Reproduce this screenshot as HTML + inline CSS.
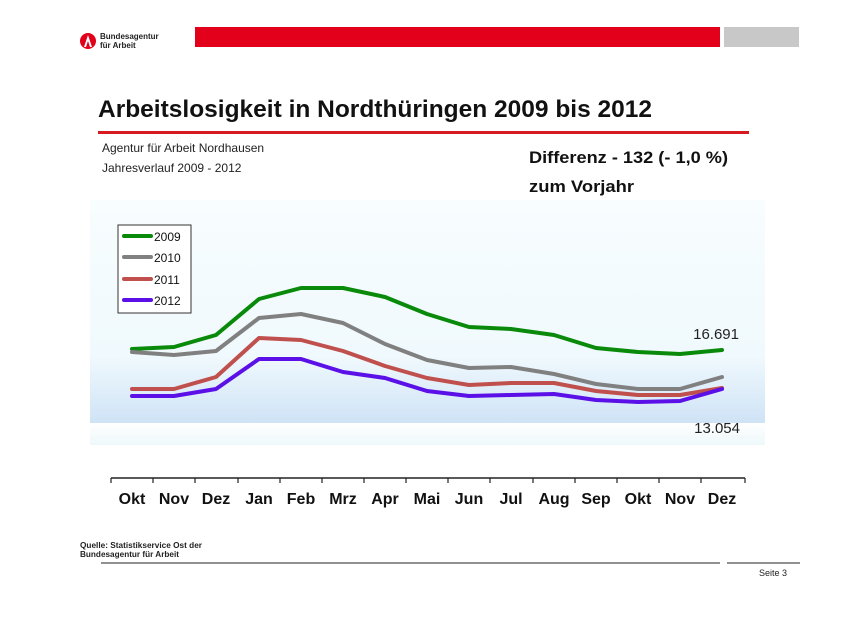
<!DOCTYPE html>
<html><head><meta charset="utf-8"><style>
html,body{margin:0;padding:0;background:#fff;}
svg{display:block;font-family:"Liberation Sans",sans-serif;}
</style></head><body>
<svg width="858" height="619" viewBox="0 0 858 619" xmlns="http://www.w3.org/2000/svg">
<defs>
<linearGradient id="bg" x1="0" y1="0" x2="0" y2="1">
<stop offset="0" stop-color="#f8fdff"/>
<stop offset="0.7" stop-color="#f0f9fd"/>
<stop offset="1" stop-color="#cfe3f6"/>
</linearGradient>
<linearGradient id="bg2" x1="0" y1="0" x2="0" y2="1">
<stop offset="0" stop-color="#ffffff"/>
<stop offset="1" stop-color="#eef8fb"/>
</linearGradient>
</defs>
<rect width="858" height="619" fill="#fff"/>
<circle cx="88" cy="41" r="8" fill="#e2001a"/>
<path d="M84 47 L88 35 L92 47 L90 47 L88 41 L86 47Z" fill="#fff"/>
<text x="100" y="39" font-size="8" font-weight="bold" fill="#222">Bundesagentur</text>
<text x="100" y="48" font-size="8" font-weight="bold" fill="#222">für Arbeit</text>
<rect x="195" y="27" width="525" height="20" fill="#e2001a"/>
<rect x="724" y="27" width="75" height="20" fill="#c8c8c8"/>
<text x="98" y="117" font-size="24" font-weight="bold" fill="#111" textLength="554" lengthAdjust="spacingAndGlyphs">Arbeitslosigkeit in Nordthüringen 2009 bis 2012</text>
<rect x="98" y="131" width="651" height="3" fill="#d71920"/>
<text x="102" y="152" font-size="12" fill="#222">Agentur für Arbeit Nordhausen</text>
<text x="102" y="172" font-size="12" fill="#222">Jahresverlauf 2009 - 2012</text>
<text x="529" y="163" font-size="17" font-weight="bold" fill="#111" textLength="199" lengthAdjust="spacingAndGlyphs">Differenz - 132 (- 1,0 %)</text>
<text x="529" y="192" font-size="17" font-weight="bold" fill="#111" textLength="105" lengthAdjust="spacingAndGlyphs">zum Vorjahr</text>
<rect x="90" y="200" width="675" height="223" fill="url(#bg)"/>
<rect x="90" y="423" width="675" height="22" fill="url(#bg2)"/>
<g fill="none" stroke-width="4" stroke-linejoin="round" stroke-linecap="round">
<polyline stroke="#0a8a0a" points="132,349 174,347 216,335 259,299 301,288 343,288 385,297 427,314 469,327 511,329 554,335 596,348 638,352 680,354 722,350"/>
<polyline stroke="#808080" points="132,352 174,355 216,351 259,318 301,314 343,323 385,344 427,360 469,368 511,367 554,374 596,384 638,389 680,389 722,377"/>
<polyline stroke="#c0504d" points="132,389 174,389 216,377 259,338 301,340 343,351 385,366 427,378 469,385 511,383 554,383 596,391 638,395 680,395 722,388"/>
<polyline stroke="#5a10e6" points="132,396 174,396 216,389 259,359 301,359 343,372 385,378 427,391 469,396 511,395 554,394 596,400 638,402 680,401 722,389"/>
</g>
<text x="739" y="339" font-size="15" fill="#222" text-anchor="end">16.691</text>
<text x="740" y="433" font-size="15" fill="#222" text-anchor="end">13.054</text>
<rect x="118" y="225" width="73" height="88" fill="#fff" stroke="#333" stroke-width="1"/>
<g stroke-width="4" stroke-linecap="round">
<line x1="124" y1="236" x2="151" y2="236" stroke="#0a8a0a"/>
<line x1="124" y1="257" x2="151" y2="257" stroke="#808080"/>
<line x1="124" y1="279" x2="151" y2="279" stroke="#c0504d"/>
<line x1="124" y1="300" x2="151" y2="300" stroke="#5a10e6"/>
</g>
<g font-size="12" fill="#111">
<text x="154" y="241">2009</text>
<text x="154" y="262">2010</text>
<text x="154" y="284">2011</text>
<text x="154" y="305">2012</text>
</g>
<line x1="111" y1="478" x2="745" y2="478" stroke="#222" stroke-width="1.5"/>
<g stroke="#222" stroke-width="1.2">
<line x1="111" y1="478" x2="111" y2="483"/><line x1="153" y1="478" x2="153" y2="483"/><line x1="195" y1="478" x2="195" y2="483"/><line x1="238" y1="478" x2="238" y2="483"/><line x1="280" y1="478" x2="280" y2="483"/><line x1="322" y1="478" x2="322" y2="483"/><line x1="364" y1="478" x2="364" y2="483"/><line x1="406" y1="478" x2="406" y2="483"/><line x1="448" y1="478" x2="448" y2="483"/><line x1="490" y1="478" x2="490" y2="483"/><line x1="533" y1="478" x2="533" y2="483"/><line x1="575" y1="478" x2="575" y2="483"/><line x1="617" y1="478" x2="617" y2="483"/><line x1="659" y1="478" x2="659" y2="483"/><line x1="701" y1="478" x2="701" y2="483"/><line x1="745" y1="478" x2="745" y2="483"/>
</g>
<g font-size="16" font-weight="bold" fill="#111" text-anchor="middle">
<text x="132" y="504">Okt</text><text x="174" y="504">Nov</text><text x="216" y="504">Dez</text><text x="259" y="504">Jan</text><text x="301" y="504">Feb</text><text x="343" y="504">Mrz</text><text x="385" y="504">Apr</text><text x="427" y="504">Mai</text><text x="469" y="504">Jun</text><text x="511" y="504">Jul</text><text x="554" y="504">Aug</text><text x="596" y="504">Sep</text><text x="638" y="504">Okt</text><text x="680" y="504">Nov</text><text x="722" y="504">Dez</text>
</g>
<text x="80" y="548" font-size="8" font-weight="bold" fill="#222" textLength="122" lengthAdjust="spacingAndGlyphs">Quelle: Statistikservice Ost der</text>
<text x="80" y="557" font-size="8" font-weight="bold" fill="#222" textLength="99" lengthAdjust="spacingAndGlyphs">Bundesagentur für Arbeit</text>
<line x1="101" y1="563" x2="720" y2="563" stroke="#222" stroke-width="1"/>
<line x1="727" y1="563" x2="800" y2="563" stroke="#222" stroke-width="1"/>
<text x="787" y="576" font-size="9" fill="#222" text-anchor="end">Seite 3</text>
</svg>
</body></html>
